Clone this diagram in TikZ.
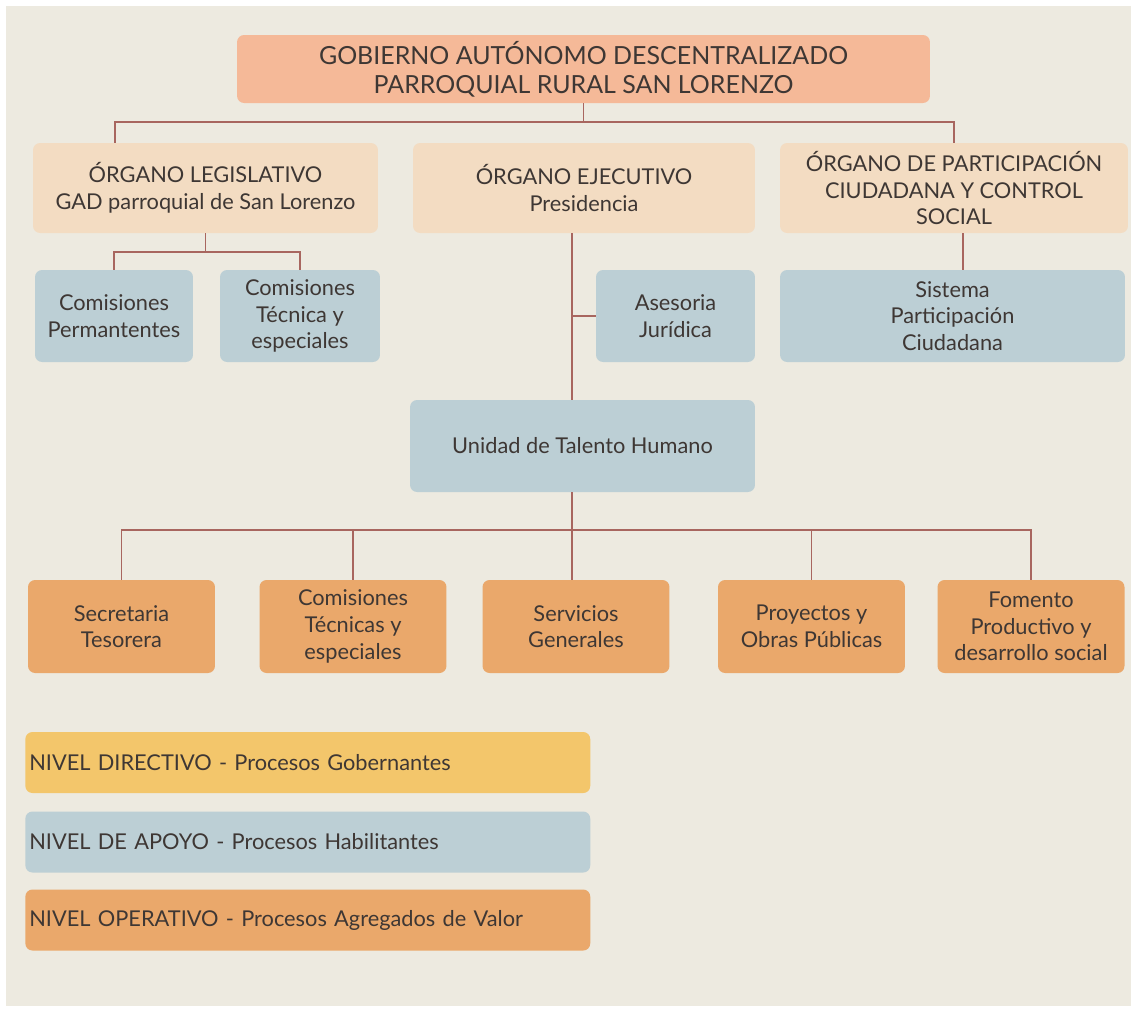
\documentclass[tikz,border=0pt]{standalone}
\usepackage{fontspec}
\setmainfont{Lato}
\usetikzlibrary{positioning,calc}
\definecolor{pagebeige}{HTML}{EDEAE0}
\definecolor{gadsalmon}{HTML}{F5B998}
\definecolor{organpeach}{HTML}{F3DCC2}
\definecolor{apoyoblue}{HTML}{BCCFD5}
\definecolor{operorange}{HTML}{EAA86B}
\definecolor{direcyellow}{HTML}{F3C66B}
\definecolor{linkred}{HTML}{A8665F}
\definecolor{inkbrown}{HTML}{3E3734}

\begin{document}
\begin{tikzpicture}[
  x=0.02cm, y=-0.02cm,
  font=\fontsize{12.4}{15.2}\selectfont,
  unit/.style={
    rounded corners=4pt, align=center,
    text=inkbrown, inner sep=2pt,
    minimum height=1.84cm
  },
  organ/.style={unit, fill=organpeach, minimum width=6.9cm, minimum height=1.8cm},
  support/.style={unit, fill=apoyoblue},
  oper/.style={unit, fill=operorange, minimum width=3.74cm, minimum height=1.86cm},
  legendbar/.style={
    rounded corners=4pt, text=inkbrown,
    anchor=west, inner sep=0.08cm,
    text width=11.14cm, align=left,
    minimum height=1.22cm
  },
  link/.style={draw=linkred, line width=0.9pt},
]

% Page and margins.
\fill[white] (0,0) rectangle (1131,1012);
\fill[pagebeige] (6,6) rectangle (1131,1006);
\useasboundingbox (0,0) rectangle (1131,1012);

% Top level.
\node[unit, fill=gadsalmon, minimum width=13.86cm, minimum height=1.36cm,
  font=\fontsize{14.2}{16.5}\selectfont] (gad) at (583.5,69)
  {GOBIERNO AUTÓNOMO DESCENTRALIZADO\\PARROQUIAL RURAL SAN LORENZO};

% The three organs.
\node[organ] (legis) at (205.5,188) {ÓRGANO LEGISLATIVO\\GAD parroquial de San Lorenzo};
\node[organ, minimum width=6.84cm] (ejec) at (584,188) {ÓRGANO EJECUTIVO\\Presidencia};
\node[organ, minimum width=6.96cm] (partic) at (954,188)
  {ÓRGANO DE PARTICIPACIÓN\\CIUDADANA Y CONTROL\\SOCIAL};

% Support units.
\node[support, minimum width=3.16cm] (cperm) at (114,316) {Comisiones\\Permantentes};
\node[support, minimum width=3.2cm] (ctec) at (300,316) {Comisiones\\Técnica y\\especiales};
\node[support, minimum width=3.18cm] (aseso) at (675.5,316) {Asesoria\\Jurídica};
\node[support, minimum width=6.9cm] (sispc) at (952.5,316) {Sistema\\Participación\\Ciudadana};
\node[support, minimum width=6.9cm] (talento) at (582.5,446) {Unidad de Talento Humano};

% Operative units.
\node[oper] (secre) at (121.5,626.5) {Secretaria\\Tesorera};
\node[oper] (ctec2) at (353,626.5) {Comisiones\\Técnicas y\\especiales};
\node[oper] (servg) at (576,626.5) {Servicios\\Generales};
\node[oper] (proy) at (811.5,626.5) {Proyectos y\\Obras Públicas};
\node[oper] (fomen) at (1031,626.5) {Fomento\\Productivo y\\desarrollo social};

% Legend.
\node[legendbar, fill=direcyellow] (ldir) at (25,762.5) {NIVEL DIRECTIVO - Procesos Gobernantes};
\node[legendbar, fill=apoyoblue] (lapo) at (25,842) {NIVEL DE APOYO - Procesos Habilitantes};
\node[legendbar, fill=operorange] (lope) at (25,920) {NIVEL OPERATIVO - Procesos Agregados de Valor};

% Bus lines.
\coordinate (topbus) at (0,122);
\coordinate (legbus) at (0,252);
\coordinate (lowbus) at (0,530);
\coordinate (spine) at (572,0);

\draw[link] (gad.south) -- (gad.south |- topbus);
\draw[link] ([xshift=-1.81cm]legis.north) |- (partic.north |- topbus) -- (partic.north);

\draw[link] (legis.south) -- (legis.south |- legbus);
\draw[link] (cperm.north) |- (ctec.north |- legbus) -- (ctec.north);

\draw[link] (ejec.south -| spine) -- (talento.north -| spine);
\draw[link] (aseso.west) -- (aseso.west -| spine);

\draw[link] ([xshift=0.18cm]partic.south) -- ([xshift=0.18cm]partic.south |- sispc.north);

\draw[link] (talento.south -| spine) -- (spine |- lowbus);
\draw[link] (secre.north) |- (fomen.north |- lowbus) -- (fomen.north);
\foreach \n in {ctec2,proy}
  \draw[link] (\n.north) -- (\n.north |- lowbus);
\draw[link] (servg.north -| spine) -- (spine |- lowbus);

\end{tikzpicture}
\end{document}
